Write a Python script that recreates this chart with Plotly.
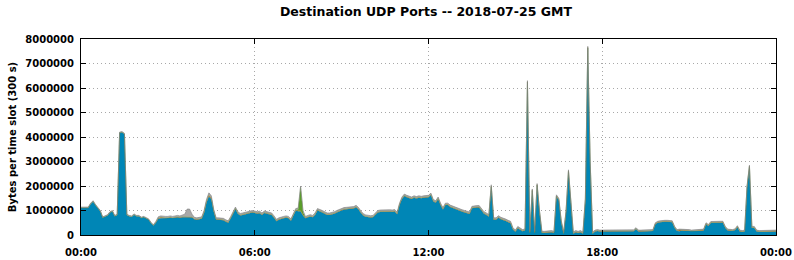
import pandas as pd
import plotly.graph_objects as go

# 5-minute slots from 00:00 to 24:00 (values in millions of bytes per slot)
blue_m = [
    # 00h
    1.11, 1.11, 1.11, 1.11, 1.27, 1.37, 1.22, 1.09, 0.97, 0.71, 0.75, 0.80,
    # 01h
    0.92, 0.97, 0.77, 0.82, 4.17, 4.19, 4.12, 0.82, 0.77, 0.75, 0.83, 0.77,
    # 02h
    0.77, 0.70, 0.73, 0.69, 0.63, 0.49, 0.39, 0.50, 0.66, 0.68, 0.68, 0.68,
    # 03h
    0.68, 0.70, 0.68, 0.70, 0.72, 0.70, 0.72, 0.73, 0.72, 0.72, 0.71, 0.64,
    # 04h
    0.62, 0.64, 0.66, 0.90, 1.33, 1.57, 1.47, 0.96, 0.62, 0.62, 0.61, 0.60,
    # 05h
    0.54, 0.50, 0.67, 0.87, 1.06, 0.87, 0.80, 0.82, 0.84, 0.85, 0.87, 0.92,
    # 06h
    0.90, 0.87, 0.89, 0.82, 0.90, 0.87, 0.86, 0.82, 0.70, 0.56, 0.62, 0.66,
    # 07h
    0.68, 0.70, 0.68, 0.58, 0.82, 1.00, 0.97, 0.97, 0.80, 0.68, 0.72, 0.75,
    # 08h
    0.72, 0.82, 1.00, 0.97, 0.92, 0.87, 0.82, 0.82, 0.84, 0.87, 0.92, 0.97,
    # 09h
    1.02, 1.04, 1.05, 1.06, 1.05, 1.08, 1.13, 1.04, 0.90, 0.79, 0.74, 0.71,
    # 10h
    0.71, 0.72, 0.82, 0.92, 0.94, 0.95, 0.94, 0.96, 0.95, 0.94, 0.96, 0.85,
    # 11h
    1.22, 1.47, 1.59, 1.54, 1.52, 1.47, 1.52, 1.49, 1.52, 1.50, 1.52, 1.54,
    # 12h
    1.54, 1.63, 1.37, 1.32, 1.47, 1.22, 1.04, 1.22, 1.22, 1.14, 1.10, 1.04,
    # 13h
    1.02, 0.97, 0.95, 0.92, 0.88, 0.86, 1.09, 1.12, 1.12, 1.12, 0.97, 0.87,
    # 14h
    0.82, 0.75, 1.97, 0.62, 0.62, 0.71, 0.64, 0.62, 0.57, 0.52, 0.48, 0.22,
    # 15h
    0.13, 0.28, 0.23, 0.15, 0.18, 6.23, 0.08, 1.81, 0.08, 2.03, 0.93, 0.08,
    # 16h
    0.08, 0.09, 0.08, 0.11, 0.08, 1.57, 1.43, 0.53, 0.05, 0.93, 2.59, 1.13,
    # 17h
    0.05, 0.11, 0.08, 0.11, 0.05, 1.43, 7.63, 2.93, 0.05, 0.14, 0.16, 0.14,
    # 18h
    0.14, 0.16, 0.14, 0.15, 0.16, 0.14, 0.14, 0.15, 0.14, 0.16, 0.14, 0.14,
    # 19h
    0.14, 0.15, 0.24, 0.14, 0.14, 0.15, 0.14, 0.14, 0.15, 0.16, 0.44, 0.50,
    # 20h
    0.52, 0.54, 0.54, 0.54, 0.54, 0.52, 0.29, 0.16, 0.15, 0.18, 0.16, 0.16,
    # 21h
    0.16, 0.14, 0.15, 0.16, 0.14, 0.16, 0.18, 0.44, 0.37, 0.49, 0.50, 0.50,
    # 22h
    0.50, 0.50, 0.50, 0.29, 0.18, 0.16, 0.16, 0.19, 0.32, 0.14, 0.12, 0.14,
    # 23h
    1.94, 2.79, 0.29, 0.29, 0.14, 0.12, 0.12, 0.12, 0.12, 0.11, 0.14, 0.12,
    # 24h
    0.14,
]

orange_m = [
    0.00, 0.00, 0.00, 0.00, 0.00, 0.00, 0.00, 0.00, 0.00, 0.00, 0.00, 0.00,
    0.00, 0.00, 0.00, 0.00, 0.00, 0.00, 0.00, 0.00, 0.00, 0.00, 0.00, 0.00,
    0.00, 0.00, 0.00, 0.00, 0.00, 0.00, 0.00, 0.01, 0.02, 0.04, 0.02, 0.02,
    0.02, 0.02, 0.02, 0.02, 0.02, 0.02, 0.02, 0.02, 0.02, 0.02, 0.02, 0.02,
    0.02, 0.02, 0.02, 0.03, 0.04, 0.05, 0.04, 0.02, 0.02, 0.02, 0.02, 0.02,
    0.02, 0.02, 0.02, 0.02, 0.02, 0.02, 0.02, 0.02, 0.02, 0.02, 0.02, 0.02,
    0.02, 0.02, 0.02, 0.02, 0.02, 0.02, 0.02, 0.02, 0.02, 0.02, 0.02, 0.02,
    0.02, 0.02, 0.02, 0.02, 0.02, 0.02, 0.02, 0.02, 0.02, 0.02, 0.02, 0.02,
    0.02, 0.02, 0.02, 0.02, 0.02, 0.02, 0.02, 0.02, 0.02, 0.02, 0.02, 0.02,
    0.02, 0.02, 0.02, 0.02, 0.02, 0.02, 0.02, 0.02, 0.02, 0.02, 0.02, 0.02,
    0.02, 0.02, 0.02, 0.02, 0.02, 0.02, 0.02, 0.02, 0.02, 0.02, 0.02, 0.02,
    0.02, 0.02, 0.02, 0.02, 0.02, 0.02, 0.02, 0.02, 0.02, 0.02, 0.02, 0.02,
    0.02, 0.02, 0.02, 0.02, 0.02, 0.02, 0.02, 0.02, 0.02, 0.02, 0.02, 0.02,
    0.02, 0.02, 0.02, 0.02, 0.02, 0.02, 0.02, 0.02, 0.02, 0.02, 0.02, 0.02,
    0.02, 0.02, 0.02, 0.02, 0.02, 0.02, 0.02, 0.02, 0.02, 0.02, 0.02, 0.02,
    0.02, 0.02, 0.02, 0.02, 0.02, 0.02, 0.02, 0.02, 0.02, 0.02, 0.02, 0.02,
    0.02, 0.02, 0.02, 0.02, 0.02, 0.02, 0.02, 0.02, 0.02, 0.02, 0.02, 0.02,
    0.02, 0.02, 0.02, 0.02, 0.02, 0.02, 0.02, 0.02, 0.02, 0.02, 0.02, 0.02,
    0.02, 0.02, 0.02, 0.02, 0.02, 0.02, 0.02, 0.02, 0.02, 0.02, 0.02, 0.02,
    0.02, 0.02, 0.02, 0.02, 0.02, 0.02, 0.02, 0.02, 0.02, 0.02, 0.02, 0.02,
    0.02, 0.02, 0.02, 0.02, 0.02, 0.02, 0.02, 0.02, 0.05, 0.02, 0.02, 0.02,
    0.02, 0.02, 0.02, 0.02, 0.02, 0.02, 0.02, 0.02, 0.02, 0.02, 0.02, 0.02,
    0.02, 0.02, 0.02, 0.02, 0.02, 0.02, 0.02, 0.02, 0.02, 0.02, 0.02, 0.02,
    0.02, 0.02, 0.02, 0.02, 0.02, 0.02, 0.02, 0.02, 0.02, 0.02, 0.02, 0.02,
    0.02,
]

green_m = [
    0.00, 0.00, 0.00, 0.00, 0.00, 0.00, 0.00, 0.00, 0.00, 0.00, 0.00, 0.00,
    0.00, 0.00, 0.00, 0.00, 0.00, 0.00, 0.00, 0.00, 0.00, 0.00, 0.00, 0.00,
    0.00, 0.00, 0.00, 0.00, 0.00, 0.00, 0.00, 0.00, 0.00, 0.00, 0.00, 0.00,
    0.00, 0.00, 0.00, 0.00, 0.00, 0.00, 0.00, 0.00, 0.00, 0.00, 0.00, 0.00,
    0.00, 0.00, 0.00, 0.00, 0.00, 0.00, 0.00, 0.00, 0.00, 0.00, 0.00, 0.00,
    0.00, 0.00, 0.00, 0.00, 0.00, 0.00, 0.00, 0.00, 0.00, 0.00, 0.00, 0.00,
    0.00, 0.00, 0.00, 0.00, 0.00, 0.00, 0.00, 0.00, 0.00, 0.00, 0.00, 0.00,
    0.00, 0.00, 0.00, 0.00, 0.00, 0.00, 0.05, 0.95, 0.12, 0.00, 0.00, 0.00,
    0.00, 0.00, 0.00, 0.00, 0.00, 0.00, 0.00, 0.00, 0.00, 0.00, 0.00, 0.00,
    0.00, 0.00, 0.00, 0.00, 0.00, 0.00, 0.00, 0.00, 0.00, 0.00, 0.00, 0.00,
    0.00, 0.00, 0.00, 0.00, 0.00, 0.00, 0.00, 0.00, 0.00, 0.00, 0.00, 0.00,
    0.00, 0.00, 0.00, 0.00, 0.00, 0.00, 0.00, 0.00, 0.00, 0.00, 0.00, 0.00,
    0.00, 0.00, 0.00, 0.00, 0.00, 0.00, 0.00, 0.00, 0.00, 0.00, 0.00, 0.00,
    0.00, 0.00, 0.00, 0.00, 0.00, 0.00, 0.00, 0.00, 0.00, 0.00, 0.00, 0.00,
    0.00, 0.00, 0.00, 0.00, 0.00, 0.00, 0.00, 0.00, 0.00, 0.00, 0.00, 0.00,
    0.00, 0.00, 0.00, 0.00, 0.00, 0.00, 0.00, 0.00, 0.00, 0.00, 0.00, 0.00,
    0.00, 0.00, 0.00, 0.00, 0.00, 0.00, 0.00, 0.00, 0.00, 0.00, 0.00, 0.00,
    0.00, 0.00, 0.00, 0.00, 0.00, 0.00, 0.00, 0.00, 0.00, 0.00, 0.00, 0.00,
    0.00, 0.00, 0.00, 0.00, 0.00, 0.00, 0.00, 0.00, 0.00, 0.00, 0.00, 0.00,
    0.00, 0.00, 0.00, 0.00, 0.00, 0.00, 0.00, 0.00, 0.00, 0.00, 0.00, 0.00,
    0.00, 0.00, 0.00, 0.00, 0.00, 0.00, 0.00, 0.00, 0.00, 0.00, 0.00, 0.00,
    0.00, 0.00, 0.00, 0.00, 0.00, 0.00, 0.00, 0.00, 0.00, 0.00, 0.00, 0.00,
    0.00, 0.00, 0.00, 0.00, 0.00, 0.00, 0.00, 0.00, 0.00, 0.00, 0.00, 0.00,
    0.00, 0.00, 0.00, 0.00, 0.00, 0.00, 0.00, 0.00, 0.00, 0.00, 0.00, 0.00,
    0.00,
]

gray_m = [
    0.03, 0.03, 0.03, 0.03, 0.03, 0.03, 0.03, 0.03, 0.03, 0.03, 0.03, 0.03,
    0.03, 0.03, 0.03, 0.03, 0.03, 0.03, 0.03, 0.03, 0.03, 0.03, 0.03, 0.03,
    0.03, 0.03, 0.03, 0.03, 0.03, 0.03, 0.03, 0.04, 0.06, 0.06, 0.06, 0.06,
    0.06, 0.06, 0.06, 0.06, 0.06, 0.06, 0.06, 0.10, 0.32, 0.32, 0.12, 0.06,
    0.06, 0.06, 0.06, 0.07, 0.08, 0.10, 0.09, 0.07, 0.06, 0.06, 0.06, 0.06,
    0.06, 0.06, 0.06, 0.06, 0.06, 0.06, 0.06, 0.06, 0.06, 0.06, 0.06, 0.06,
    0.06, 0.06, 0.06, 0.06, 0.06, 0.06, 0.06, 0.06, 0.06, 0.06, 0.06, 0.06,
    0.06, 0.06, 0.06, 0.06, 0.06, 0.06, 0.06, 0.06, 0.06, 0.06, 0.06, 0.06,
    0.06, 0.06, 0.06, 0.06, 0.06, 0.06, 0.06, 0.06, 0.06, 0.06, 0.06, 0.06,
    0.06, 0.06, 0.06, 0.06, 0.06, 0.06, 0.06, 0.06, 0.06, 0.06, 0.06, 0.06,
    0.06, 0.06, 0.06, 0.06, 0.06, 0.06, 0.06, 0.06, 0.06, 0.06, 0.06, 0.06,
    0.06, 0.06, 0.06, 0.06, 0.06, 0.06, 0.06, 0.06, 0.06, 0.06, 0.06, 0.06,
    0.06, 0.06, 0.06, 0.06, 0.06, 0.06, 0.06, 0.06, 0.06, 0.06, 0.06, 0.06,
    0.06, 0.06, 0.06, 0.06, 0.06, 0.06, 0.06, 0.06, 0.06, 0.06, 0.06, 0.06,
    0.06, 0.06, 0.06, 0.06, 0.06, 0.06, 0.06, 0.06, 0.06, 0.06, 0.06, 0.06,
    0.05, 0.05, 0.05, 0.05, 0.05, 0.05, 0.05, 0.05, 0.05, 0.05, 0.05, 0.05,
    0.05, 0.05, 0.05, 0.05, 0.05, 0.05, 0.05, 0.05, 0.05, 0.05, 0.05, 0.05,
    0.05, 0.05, 0.05, 0.05, 0.05, 0.05, 0.05, 0.05, 0.05, 0.04, 0.04, 0.04,
    0.04, 0.04, 0.04, 0.04, 0.04, 0.04, 0.04, 0.04, 0.04, 0.04, 0.04, 0.04,
    0.04, 0.04, 0.04, 0.04, 0.04, 0.04, 0.04, 0.04, 0.04, 0.04, 0.04, 0.04,
    0.04, 0.04, 0.04, 0.04, 0.04, 0.04, 0.04, 0.04, 0.04, 0.04, 0.04, 0.04,
    0.04, 0.04, 0.04, 0.04, 0.04, 0.04, 0.04, 0.04, 0.04, 0.04, 0.04, 0.04,
    0.04, 0.04, 0.04, 0.04, 0.04, 0.04, 0.04, 0.04, 0.04, 0.04, 0.04, 0.04,
    0.04, 0.04, 0.04, 0.04, 0.04, 0.04, 0.04, 0.04, 0.04, 0.04, 0.04, 0.04,
    0.04,
]

y_ticks = [0, 1000000, 2000000, 3000000, 4000000, 5000000, 6000000, 7000000, 8000000]
x_ticks = ["2018-07-25 00:00", "2018-07-25 06:00", "2018-07-25 12:00",
           "2018-07-25 18:00", "2018-07-26 00:00"]
x_tick_labels = ["00:00", "06:00", "12:00", "18:00", "00:00"]

times = pd.date_range("2018-07-25 00:00", periods=len(blue_m), freq="5min")

series = [
    ("blue", blue_m, "#0086b6", "#0a7fac", 0.3),
    ("orange", orange_m, "#d2691e", "#c8702a", 0.3),
    ("green", green_m, "#5a9e2a", "#5a9e2a", 0.3),
    ("gray", gray_m, "#a8a8a8", "#7c7c7c", 0.6),
]

fig = go.Figure()
for name, vals, fill, edge, lw in series:
    fig.add_trace(go.Scatter(
        x=times, y=[v * 1e6 for v in vals], name=name,
        mode="lines", stackgroup="one",
        line=dict(color=edge, width=lw),
        fillcolor=fill, showlegend=False,
    ))

font = "DejaVu Sans"
fig.update_layout(
    width=794, height=260,
    margin=dict(l=81, r=18, t=39, b=25, autoexpand=False),
    paper_bgcolor="white", plot_bgcolor="white",
    title=dict(text="<b>Destination UDP Ports -- 2018-07-25 GMT</b>",
               x=0.5365, xanchor="center", y=0.955, yanchor="middle",
               font=dict(family=font, size=12.5, color="black")),
    font=dict(family=font, size=10, color="black"),
)
fig.update_xaxes(
    range=[x_ticks[0], x_ticks[-1]], automargin=False,
    tickvals=x_ticks, ticktext=["<b>%s</b>" % t for t in x_tick_labels],
    showgrid=True, gridcolor="#a8a8a8", griddash="1px,3px", gridwidth=1,
    showline=True, linecolor="black", linewidth=1, mirror="ticks",
    ticks="inside", ticklen=5, tickcolor="black",
    ticklabelstandoff=8,
    tickfont=dict(family=font, size=10, color="black"),
)
fig.update_yaxes(
    range=[0, 8000000], automargin=False,
    tickvals=y_ticks, ticktext=["<b>%d</b>" % v for v in y_ticks],
    showgrid=True, gridcolor="#a8a8a8", griddash="1px,3px", gridwidth=1,
    showline=True, linecolor="black", linewidth=1, mirror="ticks",
    ticks="inside", ticklen=5, tickcolor="black",
    ticklabelstandoff=4,
    tickfont=dict(family=font, size=10, color="black"),
    title=dict(text="<b>Bytes per time slot (300 s)</b>", standoff=6,
               font=dict(family=font, size=10, color="black")),
    zeroline=False,
)

fig.write_html("out.html")
